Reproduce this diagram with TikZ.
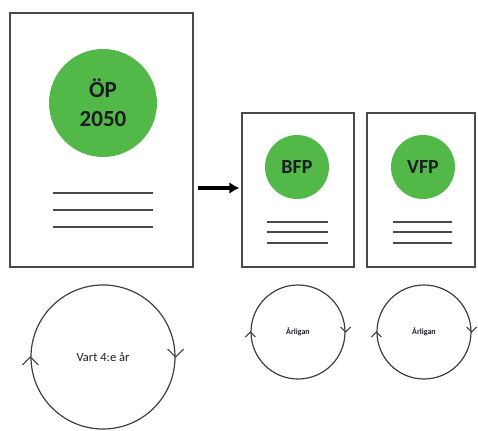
\documentclass[tikz,border=0pt]{standalone}
\usepackage{fontspec}
\setmainfont{Carlito}
\usetikzlibrary{arrows.meta}
\definecolor{planGreen}{HTML}{52B848}
\definecolor{frameGray}{HTML}{4A4A4A}
\definecolor{inkDark}{HTML}{1C1C24}
\tikzset{
  docpage/.style={draw=frameGray, line width=1.4pt, fill=white, inner sep=0pt},
  seal/.style={circle, fill=planGreen, inner sep=0pt, text=inkDark, font=\bfseries, align=center},
  textline/.style={draw=frameGray, line width=1.3pt},
  cycle/.style={circle, draw=inkDark!85, line width=1.2pt, inner sep=0pt, text=inkDark},
  chevron/.style={draw=inkDark!85, line width=1.1pt},
  flow/.style={draw=black, line width=3.6pt, -{Latex[length=10pt,width=12pt]}, shorten <=4pt, shorten >=2pt}
}
\begin{document}
\begin{tikzpicture}[x=1pt, y=-1pt]
\useasboundingbox (0,0) rectangle (478,430);

% Document pages
\node[docpage, minimum width=183pt, minimum height=254pt] (op) at (101.5,140) {};
\node[docpage, minimum width=112pt, minimum height=154pt] (bfp) at (298,190) {};
\node[docpage, minimum width=108pt, minimum height=154pt] (vfp) at (421,190) {};

% Green seals
\node[seal, minimum size=108pt, font=\bfseries\fontsize{23}{29}\selectfont] (opseal) at (103,103) {ÖP\\2050};
\node[seal, minimum size=64pt, font=\bfseries\fontsize{20}{24}\selectfont] (bfpseal) at (297,167) {BFP};
\node[seal, minimum size=64pt, font=\bfseries\fontsize{20}{24}\selectfont] (vfpseal) at (423,167) {VFP};

% Text lines on the pages
\foreach \y in {193,210,227} \draw[textline] (53,\y) -- (153,\y);
\foreach \y in {222,232,243} {
  \draw[textline] (267,\y) -- (328,\y);
  \draw[textline] (393,\y) -- (452,\y);
}

% Flow from the plan to the detailed plans
\draw[flow] (op.east |- 0,188) -- (bfp.west |- 0,188);

% Revision cycles
\node[cycle, minimum size=144pt, font=\fontsize{12.5}{14}\selectfont] (cyc1) at (103,357) {Vart 4:e år};
\node[cycle, minimum size=94pt, font=\bfseries\fontsize{8}{10}\selectfont] (cyc2) at (298,332) {Årligan};
\node[cycle, minimum size=94pt, font=\bfseries\fontsize{8}{10}\selectfont] (cyc3) at (424,332) {Årligan};

% Clockwise direction marks
\draw[chevron] (cyc1.west) ++(-8,8) -- ++(8,-8) -- ++(8,8);
\draw[chevron] (cyc1.east) ++(-8,-8) -- ++(8,8) -- ++(8,-8);
\foreach \c in {cyc2,cyc3} {
  \draw[chevron] (\c.west) ++(-5,5) -- ++(5,-5) -- ++(5,5);
  \draw[chevron] (\c.east) ++(-5,-5) -- ++(5,5) -- ++(5,-5);
}
\end{tikzpicture}
\end{document}
